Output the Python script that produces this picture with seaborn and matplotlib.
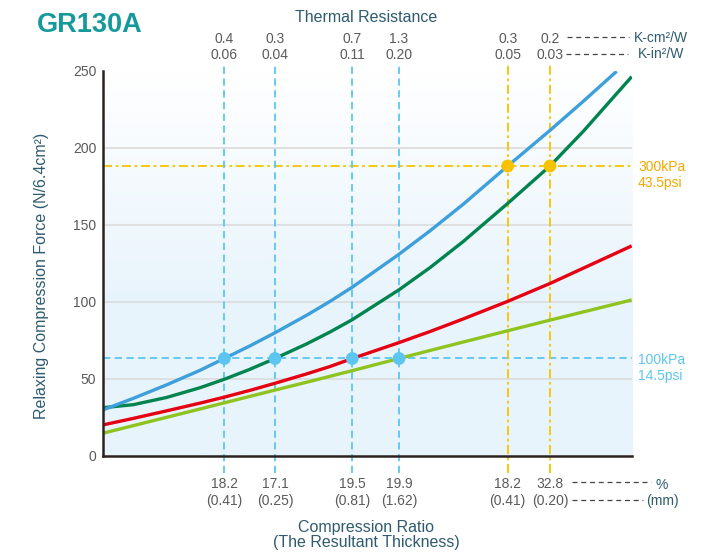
import matplotlib
matplotlib.use("Agg")
import numpy as np
import pandas as pd
import matplotlib.pyplot as plt
import matplotlib.transforms as mtransforms
from matplotlib.lines import Line2D
from matplotlib.colors import LinearSegmentedColormap
import seaborn as sns

# ---------------- data ----------------
blue_x = [0, 5.82, 12.13, 18.42, 23.02, 27.87, 32.6, 38.59, 43.0, 47.2, 56.03, 61.89, 68.18, 76.57, 84.56, 90.85, 97.16]
blue_y = [29.5, 37.1, 45.9, 55.3, 63.0, 71.2, 79.7, 91.1, 100.1, 109.3, 130.7, 145.9, 163.2, 188.0, 211.1, 230.0, 249.5]

green_x = [0, 5.82, 12.13, 18.42, 23.02, 27.87, 32.6, 38.59, 43.0, 47.2, 56.03, 61.89, 68.18, 76.57, 84.56, 90.85, 100]
green_y = [31.0, 33.0, 37.7, 44.0, 49.5, 56.0, 63.0, 72.5, 80.2, 88.2, 107.6, 122.0, 139.0, 163.7, 188.0, 210.5, 246.0]

red_x = [0, 5.82, 12.13, 18.42, 23.02, 27.87, 32.6, 38.59, 43.0, 47.2, 56.03, 61.89, 68.18, 76.57, 84.56, 100]
red_y = [19.8, 24.1, 29.0, 34.0, 37.9, 42.3, 46.9, 53.0, 57.8, 63.0, 73.3, 80.5, 88.7, 100.1, 111.7, 136.1]

lime_x = [0, 5.82, 12.13, 18.42, 23.02, 27.87, 32.6, 38.59, 44.56, 47.2, 56.03, 61.89, 68.18, 76.57, 84.56, 100]
lime_y = [14.4, 19.4, 24.8, 30.2, 34.2, 38.4, 42.5, 47.6, 52.8, 55.1, 63.0, 68.2, 73.7, 81.0, 87.9, 101.0]

cyan_x = [23.02, 32.6, 47.2, 56.03]      # 100 kPa points
cyan_level = 63
orange_x = [76.57, 84.56]                # 300 kPa points
orange_level = 188

top_row1 = ["0.4", "0.3", "0.7", "1.3", "0.3", "0.2"]          # K-cm2/W
top_row2 = ["0.06", "0.04", "0.11", "0.20", "0.05", "0.03"]    # K-in2/W
bot_row1 = ["18.2", "17.1", "19.5", "19.9", "18.2", "32.8"]    # %
bot_row2 = ["(0.41)", "(0.25)", "(0.81)", "(1.62)", "(0.41)", "(0.20)"]  # (mm)
y_ticks = [0, 50, 100, 150, 200, 250]

# ---------------- style ----------------
sns.set_theme(style="white")
plt.rcParams["font.family"] = ["Liberation Sans", "DejaVu Sans"]

W, H = 715, 554
fig = plt.figure(figsize=(W / 100, H / 100), dpi=100)
ax = fig.add_axes([102.5 / W, 1 - 455.5 / H, (631.7 - 102.5) / W, (455.5 - 70.5) / H])

C_BLUE = "#3d9fdb"
C_GREEN = "#00844f"
C_RED = "#e50012"
C_LIME = "#8fc31f"
C_CYAN = "#5cc6f0"
C_ORANGE = "#f7c300"
C_ORANGE_TXT = "#f5a800"
C_TEAL = "#2e5b70"
C_NUM = "#5a5a5a"

# background gradient (white at top -> light blue)
yy = np.linspace(250, 0, 300)
t = np.clip((250 - yy) / 150.0, 0, 1)
grad = np.tile(t[:, None], (1, 2))
cmap = LinearSegmentedColormap.from_list("bg", ["#ffffff", "#e8f4fc"])
ax.imshow(grad, extent=[0, 100, 0, 250], aspect="auto", cmap=cmap, vmin=0, vmax=1,
          zorder=0, interpolation="bilinear")

# gridlines
for g in y_ticks[1:-1]:
    ax.axhline(g, color="#d9d9d9", lw=1.1, zorder=1)

# reference dashed lines
ax.hlines(cyan_level, 0, 100, colors=C_CYAN, lw=1.3, linestyles=(0, (4, 2.5)), zorder=2)
ax.hlines(orange_level, 0, 100, colors=C_ORANGE, lw=1.3, linestyles=(0, (5, 2, 1.5, 2)), zorder=2)
for xv in cyan_x:
    ax.vlines(xv, -11.3, 255, colors=C_CYAN, lw=1.3, linestyles=(0, (4, 2.5)), zorder=2, clip_on=False)
for xv in orange_x:
    ax.vlines(xv, -11.3, 255, colors=C_ORANGE, lw=1.3, linestyles=(0, (5, 2, 1.5, 2)), zorder=2, clip_on=False)

# curves
df = pd.concat([
    pd.DataFrame({"x": lime_x, "y": lime_y, "s": "lime"}),
    pd.DataFrame({"x": red_x, "y": red_y, "s": "red"}),
    pd.DataFrame({"x": green_x, "y": green_y, "s": "green"}),
    pd.DataFrame({"x": blue_x, "y": blue_y, "s": "blue"}),
])
pal = {"blue": C_BLUE, "green": C_GREEN, "red": C_RED, "lime": C_LIME}
sns.lineplot(data=df, x="x", y="y", hue="s", palette=pal, estimator=None, sort=True,
             legend=False, lw=2.4, ax=ax, zorder=3, solid_joinstyle="round",
             solid_capstyle="butt")

# markers
pts_c = pd.DataFrame({"x": cyan_x, "y": [cyan_level] * len(cyan_x)})
pts_o = pd.DataFrame({"x": orange_x, "y": [orange_level] * len(orange_x)})
sns.scatterplot(data=pts_c, x="x", y="y", color=C_CYAN, s=85, edgecolor="none", ax=ax, zorder=4)
sns.scatterplot(data=pts_o, x="x", y="y", color=C_ORANGE, s=85, edgecolor="none", ax=ax, zorder=4)

ax.set_xlim(0, 100)
ax.set_ylim(0, 250)
ax.set_xticks([])
ax.set_yticks(y_ticks)
ax.set_yticklabels([str(v) for v in y_ticks])
ax.tick_params(axis="y", length=0, pad=4.5, labelsize=10, labelcolor=C_NUM)
ax.set_xlabel("")
ax.set_ylabel("")
for s in ["top", "right"]:
    ax.spines[s].set_visible(False)
for s in ["left", "bottom"]:
    ax.spines[s].set_color("#2b2220")
    ax.spines[s].set_linewidth(1.8)
    ax.spines[s].set_zorder(5)

# ---------------- texts ----------------
def fy(py):
    return 1 - py / H

def fx(px):
    return px / W

trans = mtransforms.blended_transform_factory(ax.transData, fig.transFigure)
vx = cyan_x + orange_x
for xv, a, b in zip(vx, top_row1, top_row2):
    ax.text(xv, fy(43.3), a, transform=trans, ha="center", va="baseline", fontsize=10, color=C_NUM)
    ax.text(xv, fy(59.0), b, transform=trans, ha="center", va="baseline", fontsize=10, color=C_NUM)
for xv, a, b in zip(vx, bot_row1, bot_row2):
    ax.text(xv, fy(488), a, transform=trans, ha="center", va="baseline", fontsize=10, color=C_NUM)
    ax.text(xv, fy(504.5), b, transform=trans, ha="center", va="baseline", fontsize=10, color=C_NUM)

fig.text(fx(37), fy(32), "GR130A", fontsize=19.5, fontweight="bold", color="#15999b",
         ha="left", va="baseline")
fig.text(fx(366.5), fy(22), "Thermal Resistance", fontsize=11.5, color=C_TEAL,
         ha="center", va="baseline")
fig.text(fx(366.5), fy(532), "Compression Ratio", fontsize=11.5, color=C_TEAL,
         ha="center", va="baseline")
fig.text(fx(366.5), fy(547), "(The Resultant Thickness)", fontsize=11.5, color=C_TEAL,
         ha="center", va="baseline")
fig.text(fx(42), fy(276), "Relaxing Compression Force (N/6.4cm²)", fontsize=11.5,
         color=C_TEAL, rotation=90, ha="center", va="center")

# unit legends with dashed leaders
def leader(x0, x1, py):
    fig.add_artist(Line2D([fx(x0), fx(x1)], [fy(py), fy(py)], transform=fig.transFigure,
                          color="#444444", lw=0.9, linestyle=(0, (4, 3))))

leader(567, 629, 37.3)
fig.text(fx(634), fy(41.7), "K-cm²/W", fontsize=10, color=C_TEAL, ha="left", va="baseline")
leader(566, 628, 54)
fig.text(fx(638), fy(58), "K-in²/W", fontsize=10, color=C_TEAL, ha="left", va="baseline")
leader(572, 651, 482)
fig.text(fx(655), fy(489), "%", fontsize=10, color=C_TEAL, ha="left", va="baseline")
leader(572, 643, 500)
fig.text(fx(646), fy(505), "(mm)", fontsize=10, color=C_TEAL, ha="left", va="baseline")

# pressure labels
fig.text(fx(638), fy(170.7), "300kPa", fontsize=10, color=C_ORANGE_TXT, ha="left", va="baseline")
fig.text(fx(638), fy(186.7), "43.5psi", fontsize=10, color=C_ORANGE_TXT, ha="left", va="baseline")
fig.text(fx(638), fy(364), "100kPa", fontsize=10, color=C_CYAN, ha="left", va="baseline")
fig.text(fx(638), fy(380), "14.5psi", fontsize=10, color=C_CYAN, ha="left", va="baseline")

fig.savefig("out.png", dpi=100)
